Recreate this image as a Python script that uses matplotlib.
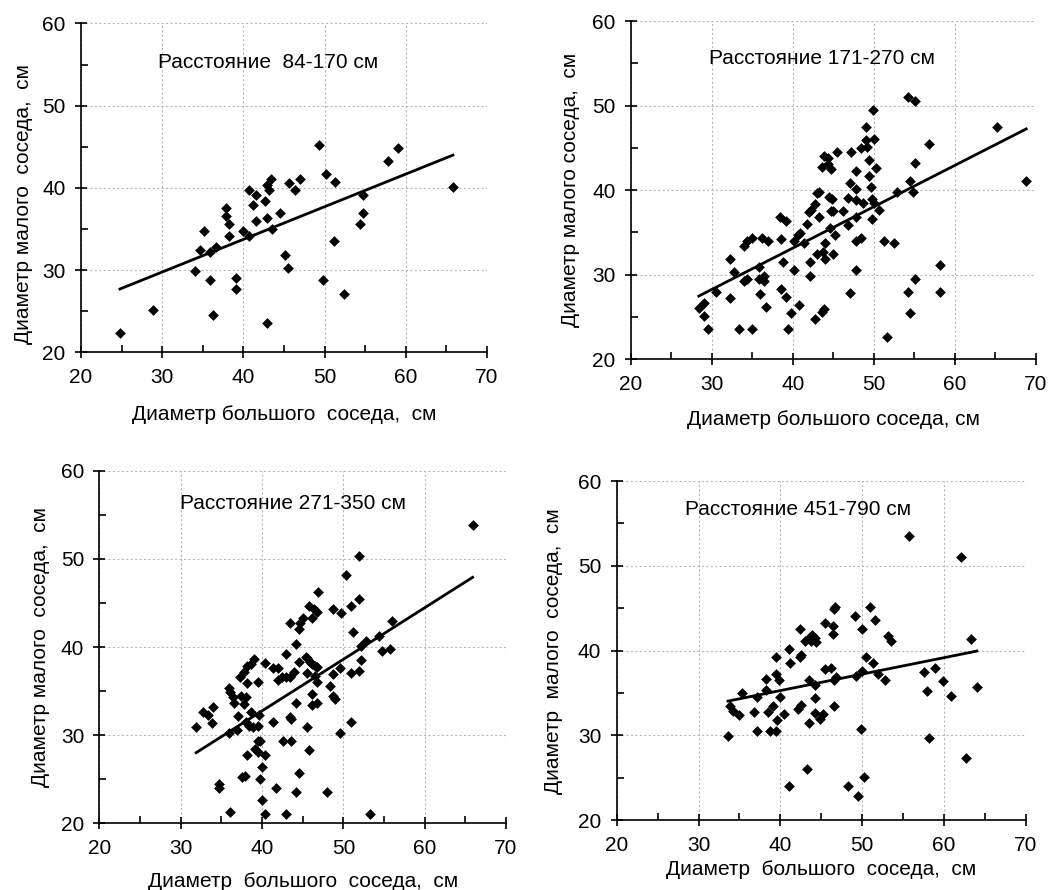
import numpy as np
import matplotlib
matplotlib.use('Agg')
import matplotlib.pyplot as plt
from matplotlib.ticker import MultipleLocator

plt.rcParams['font.family'] = ['Liberation Sans', 'DejaVu Sans']

# ── Данные ─────────────────────────────────────────────────────────────────────
big_1 = [24.8, 28.9, 34.0, 34.6, 35.1, 35.9, 35.9, 36.2, 36.6, 37.8, 37.8, 38.2,
         38.2, 39.1, 39.1, 39.9, 40.7, 40.7, 41.2, 41.6, 41.6, 42.6, 42.9, 42.9,
         43.2, 43.4, 42.9, 43.5, 44.5, 45.1, 45.5, 45.6, 46.4, 47.0, 49.3, 49.8,
         50.2, 51.3, 51.1, 52.4, 54.3, 54.7, 54.7, 57.8, 59.1, 65.8]
small_1 = [22.3, 25.1, 29.9, 32.5, 34.7, 32.2, 28.8, 24.5, 32.8, 37.6, 36.6, 35.6,
           34.1, 29.0, 27.7, 34.7, 39.8, 34.1, 37.9, 39.1, 36.0, 38.4, 40.4, 36.3,
           39.8, 41.1, 23.6, 35.0, 36.9, 31.8, 30.3, 40.6, 39.8, 41.1, 45.2, 28.8,
           41.7, 40.7, 33.5, 27.1, 35.6, 36.9, 39.1, 43.3, 44.9, 40.1]

big_2 = [28.4, 29.0, 29.0, 29.6, 30.5, 32.2, 32.2, 32.7, 33.4, 34.0, 34.3, 34.0,
         34.3, 35.0, 35.0, 35.8, 35.8, 36.0, 36.2, 36.4, 36.4, 36.7, 37.0, 38.4,
         38.5, 38.6, 38.8, 39.2, 39.2, 39.4, 39.8, 40.1, 40.1, 40.6, 40.9, 40.8,
         41.4, 41.8, 42.0, 42.1, 42.1, 42.3, 42.7, 43.0, 43.2, 42.7, 43.0, 43.2,
         43.6, 43.8, 43.6, 43.9, 44.3, 44.4, 44.7, 44.0, 44.0, 43.7, 44.6, 44.5,
         44.8, 44.7, 44.9, 45.0, 45.2, 45.5, 46.2, 46.8, 46.8, 47.0, 47.2, 47.1,
         47.8, 47.8, 47.8, 47.8, 47.8, 47.8, 48.4, 48.4, 48.7, 49.0, 49.0, 49.1,
         49.4, 49.4, 49.7, 49.8, 49.9, 49.8, 50.0, 50.0, 50.3, 50.6, 51.3, 51.6,
         52.5, 52.8, 54.2, 54.2, 54.5, 54.5, 54.8, 55.1, 55.1, 55.1, 56.8, 58.2,
         58.2, 65.2, 68.8]
small_2 = [26.1, 26.7, 25.1, 23.6, 28.0, 31.9, 27.3, 30.3, 23.6, 33.4, 34.0, 29.3,
           29.5, 34.4, 23.6, 30.9, 29.5, 27.7, 34.4, 29.9, 29.3, 26.2, 34.0, 36.8,
           34.2, 28.3, 31.5, 36.3, 27.4, 23.6, 25.5, 30.5, 34.0, 34.7, 34.9, 26.4,
           33.8, 36.0, 37.4, 31.5, 29.9, 37.6, 38.4, 39.7, 39.8, 24.8, 32.5, 36.8,
           25.6, 25.9, 42.7, 44.0, 43.8, 43.1, 42.5, 33.7, 31.9, 32.7, 35.5, 39.2,
           38.9, 37.5, 37.5, 32.4, 34.7, 44.5, 37.5, 35.9, 39.1, 40.8, 44.5, 27.8,
           40.1, 42.3, 38.8, 36.8, 34.0, 30.5, 34.3, 45.0, 38.5, 47.5, 45.9, 45.1,
           41.7, 43.6, 40.4, 39.0, 49.5, 36.6, 46.1, 38.5, 42.6, 37.6, 34.0, 22.6,
           33.7, 39.8, 51.0, 28.0, 41.1, 25.5, 39.8, 50.6, 43.2, 29.5, 45.5, 31.1,
           28.0, 47.5, 41.1]

big_3 = [65.9, 51.9, 50.3, 46.9, 51.9, 50.9, 48.7, 49.7, 45.8, 46.4, 46.8, 46.2,
         45.0, 44.7, 44.5, 43.4, 56.0, 51.2, 54.4, 52.8, 52.2, 44.2, 54.8, 55.7,
         42.9, 39.0, 38.7, 38.2, 37.8, 37.3, 40.4, 38.2, 39.5, 41.3, 42.0, 41.9,
         42.4, 42.9, 43.4, 43.9, 45.4, 45.5, 45.9, 46.2, 46.5, 46.8, 45.5, 44.6,
         46.5, 46.7, 46.2, 46.2, 46.8, 48.7, 49.6, 50.9, 51.9, 52.2, 48.3, 48.7,
         49.0, 35.9, 36.0, 36.4, 36.5, 37.4, 38.0, 37.8, 34.0, 32.7, 33.4, 33.8,
         31.9, 37.1, 38.7, 39.6, 38.0, 38.4, 38.9, 39.5, 35.9, 36.9, 41.3, 43.4,
         43.6, 44.2, 45.5, 49.6, 50.9, 39.5, 39.8, 42.6, 43.6, 39.1, 39.5, 38.2,
         40.4, 45.8, 40.0, 44.5, 37.9, 37.5, 39.8, 34.7, 34.7, 41.7, 44.2, 48.0,
         40.0, 36.0, 40.4, 43.0, 53.3]
small_3 = [53.8, 50.3, 48.2, 46.2, 45.5, 44.6, 44.3, 43.9, 44.6, 44.3, 44.0, 43.3,
           43.3, 42.7, 42.1, 42.7, 43.0, 41.7, 41.3, 40.7, 40.1, 40.4, 39.5, 39.8,
           39.2, 38.6, 38.1, 37.8, 37.2, 36.6, 38.2, 35.9, 36.0, 37.6, 37.6, 36.3,
           36.6, 36.6, 36.6, 37.2, 38.9, 38.7, 38.3, 38.1, 37.9, 37.7, 37.0, 38.3,
           36.7, 36.0, 34.7, 33.4, 33.7, 36.9, 37.6, 37.1, 37.3, 38.5, 35.6, 34.4,
           34.1, 35.3, 34.9, 34.3, 33.7, 34.4, 34.3, 33.5, 33.2, 32.6, 32.3, 31.4,
           30.9, 32.2, 32.6, 32.3, 31.5, 31.0, 30.9, 31.0, 30.3, 30.6, 31.5, 32.1,
           31.8, 33.7, 30.9, 30.2, 31.5, 29.3, 29.3, 29.3, 29.3, 28.4, 28.1, 27.7,
           27.7, 28.3, 26.4, 25.7, 25.4, 25.2, 25.0, 24.5, 24.0, 24.0, 23.6, 23.6,
           22.6, 21.3, 21.1, 21.1, 21.1]

big_4 = [33.6, 33.9, 34.2, 34.9, 35.3, 36.8, 37.2, 37.2, 38.2, 38.2, 38.5, 38.7,
         39.1, 39.5, 39.5, 39.5, 39.6, 39.8, 39.9, 40.4, 41.0, 41.2, 41.0, 42.1,
         42.5, 42.4, 42.4, 42.5, 43.0, 43.3, 43.5, 43.5, 43.6, 43.9, 44.2, 44.3,
         43.8, 44.2, 44.2, 44.2, 44.9, 45.2, 45.5, 45.5, 46.2, 46.4, 46.4, 46.5,
         46.7, 46.5, 46.8, 46.5, 48.3, 49.1, 49.2, 49.5, 49.8, 50.0, 50.0, 50.2,
         50.5, 50.9, 51.3, 51.5, 51.9, 52.8, 53.2, 53.5, 55.7, 57.6, 57.9, 58.2,
         58.9, 59.9, 60.8, 62.1, 62.7, 63.3, 64.0]
small_4 = [29.9, 33.5, 32.9, 32.4, 35.0, 32.8, 34.5, 30.5, 36.7, 35.4, 32.8, 30.5,
           33.5, 30.5, 39.2, 37.3, 31.8, 36.5, 34.5, 32.5, 40.2, 38.5, 24.0, 33.1,
           33.6, 42.6, 39.2, 39.5, 41.2, 26.1, 31.5, 36.5, 41.6, 41.8, 41.5, 41.0,
           41.1, 36.0, 34.4, 32.7, 31.9, 32.5, 43.3, 37.8, 37.9, 42.9, 42.0, 44.9,
           45.2, 36.5, 36.9, 33.5, 24.0, 44.1, 37.0, 22.9, 30.8, 42.6, 37.6, 25.1,
           39.2, 45.2, 38.5, 43.6, 37.2, 36.6, 41.7, 41.1, 53.5, 37.5, 35.3, 29.7,
           37.9, 36.4, 34.7, 51.0, 27.4, 41.4, 35.7]

titles = ['Расстояние  84-170 см', 'Расстояние 171-270 см',
          'Расстояние 271-350 см', 'Расстояние 451-790 см']
xlabels = ['Диаметр большого  соседа,  см', 'Диаметр большого соседа, см',
           'Диаметр  большого  соседа,  см', 'Диаметр  большого  соседа,  см']
ylabels = ['Диаметр малого  соседа,  см', 'Диаметр малого соседа,  см',
           'Диаметр малого  соседа,  см', 'Диаметр  малого  соседа,  см']

# ── Рисунок ────────────────────────────────────────────────────────────────────
fig = plt.figure(figsize=(10.48, 8.90), dpi=100)

rects = [
    [0.0773, 0.6042, 0.3874, 0.3694],
    [0.6018, 0.5963, 0.3867, 0.3801],
    [0.0949, 0.0749, 0.3879, 0.3962],
    [0.5884, 0.0783, 0.3906, 0.3812],
]
title_pos = [(43.1, 55.3), (43.6, 55.6), (43.8, 56.3), (42.1, 56.6)]
ylabel_xy = [(-0.118, 0.45), (-0.125, 0.5), (-0.122, 0.5), (-0.131, 0.5)]
xlabel_pad = [13, 12, 10, 4]

panels = [(big_1, small_1), (big_2, small_2), (big_3, small_3), (big_4, small_4)]

for i, (bx, sy) in enumerate(panels):
    ax = fig.add_axes(rects[i])
    bx = np.array(bx)
    sy = np.array(sy)

    ax.scatter(bx, sy, marker='D', s=30, color='black', zorder=3, linewidths=0)

    # линейный тренд
    k, b = np.polyfit(bx, sy, 1)
    xs = np.array([bx.min(), bx.max()])
    ax.plot(xs, k * xs + b, color='black', lw=2, zorder=2)

    ax.set_xlim(20, 70)
    ax.set_ylim(20, 60)
    ax.xaxis.set_major_locator(MultipleLocator(10))
    ax.xaxis.set_minor_locator(MultipleLocator(5))
    ax.yaxis.set_major_locator(MultipleLocator(10))
    ax.yaxis.set_minor_locator(MultipleLocator(5))

    ax.grid(True, which='major', color='#b8b8b8', linestyle=(0, (2, 2)), linewidth=0.8)
    ax.set_axisbelow(True)
    for side in ['top', 'right']:
        ax.spines[side].set_visible(False)
    for side in ['left', 'bottom']:
        ax.spines[side].set_linewidth(1.2)

    ax.tick_params(which='major', direction='inout', length=8, width=1.2,
                   labelsize=15, pad=7)
    ax.tick_params(which='minor', direction='in', length=5, width=1.2)

    ax.text(title_pos[i][0], title_pos[i][1], titles[i], fontsize=15,
            ha='center', va='center')
    ax.set_xlabel(xlabels[i], fontsize=15, labelpad=xlabel_pad[i])
    ax.set_ylabel(ylabels[i], fontsize=15)
    ax.yaxis.set_label_coords(*ylabel_xy[i])

fig.savefig('out.png', dpi=100)
